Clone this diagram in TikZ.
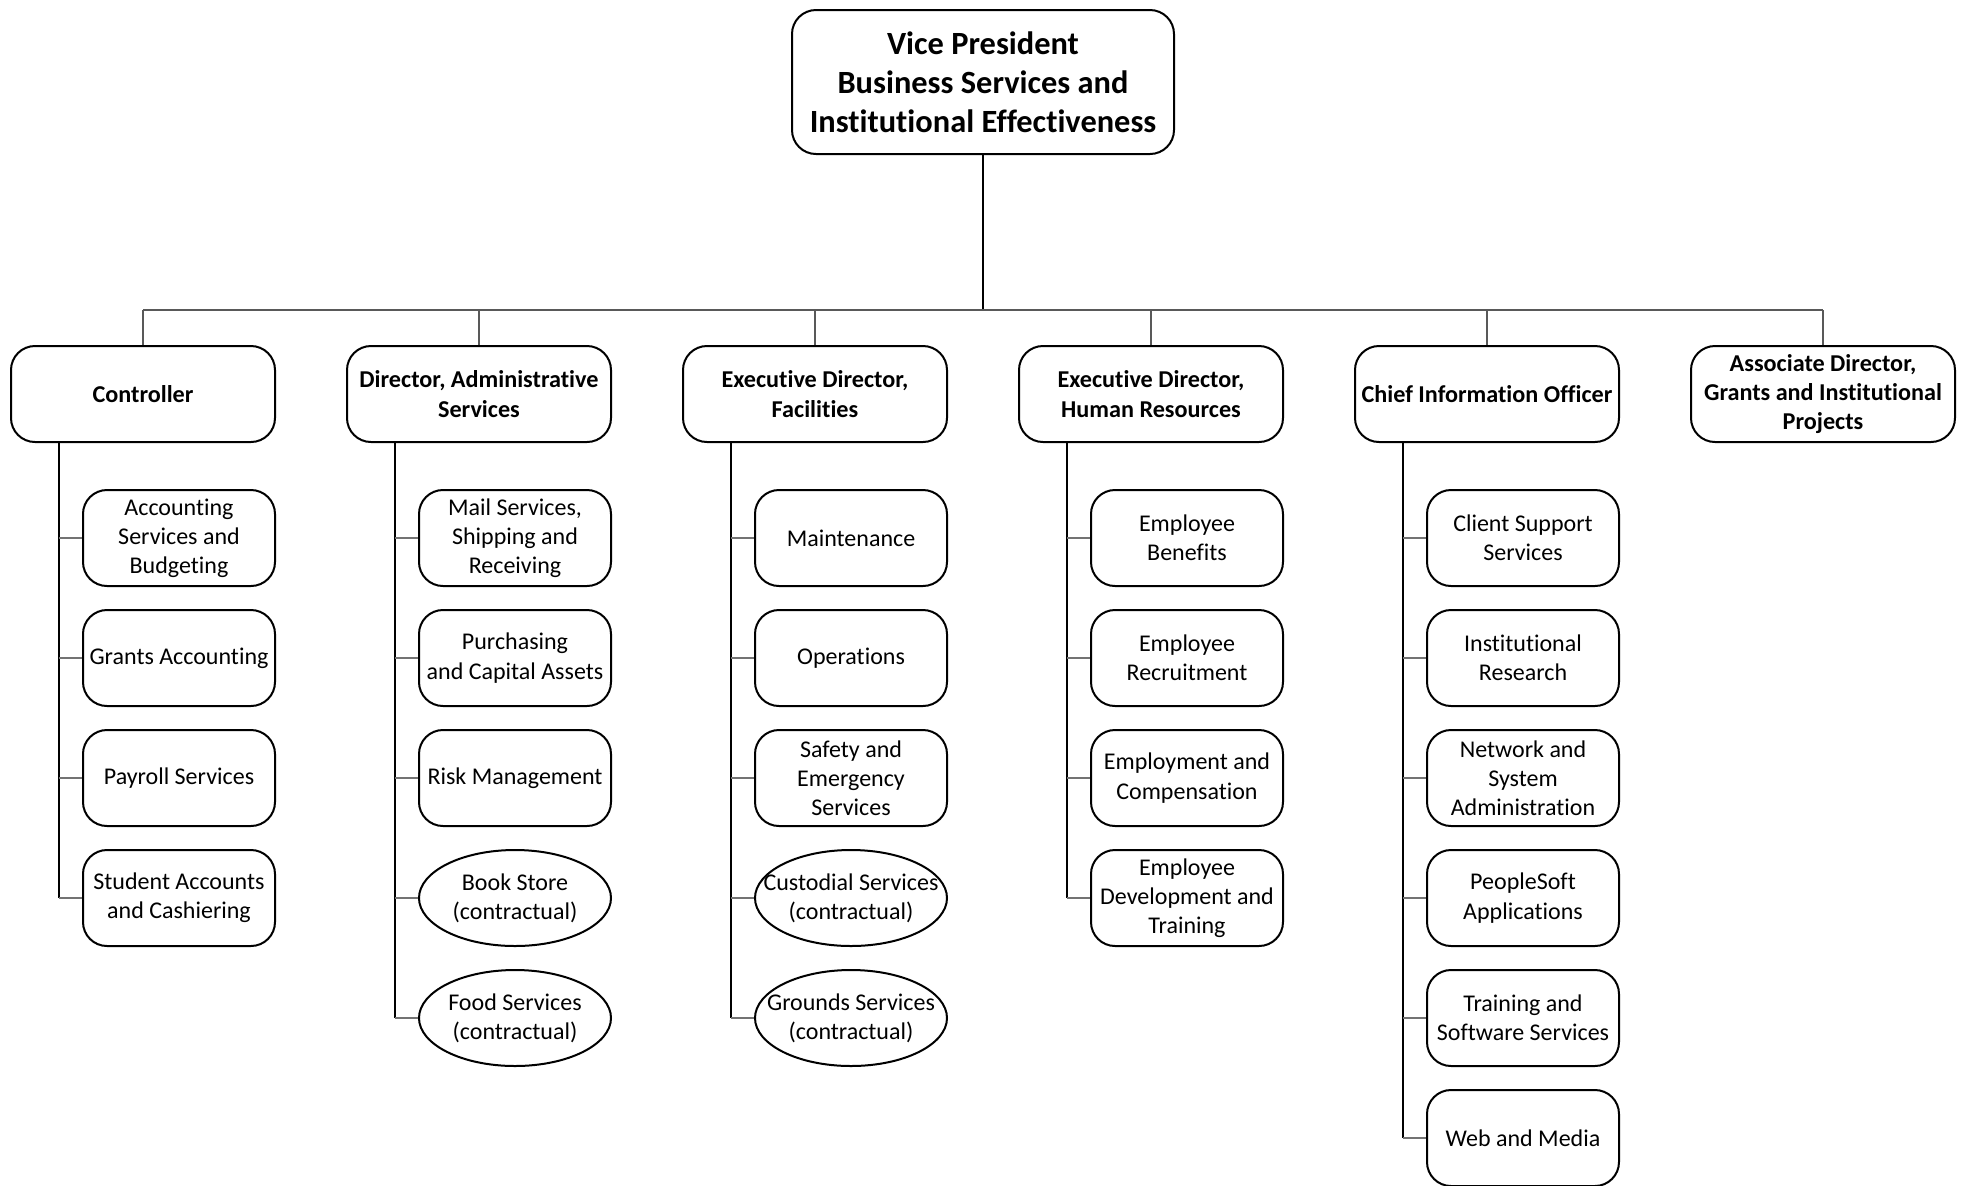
\documentclass[tikz,border=0pt]{standalone}
\usepackage{fontspec}
\setmainfont{Carlito}[Ligatures=NoCommon]
\usetikzlibrary{shapes.geometric}
\begin{document}
\begin{tikzpicture}[x=0.5pt,y=-0.5pt,
 every node/.style={align=center},
 topbox/.style={draw, line width=1pt, rounded corners=12pt, minimum width=191pt, minimum height=72pt, font=\fontsize{16.2}{19.6}\selectfont\bfseries, inner sep=0pt},
 headbox/.style={draw, line width=1pt, rounded corners=12pt, minimum width=132pt, minimum height=48pt, font=\fontsize{12.1}{14.7}\selectfont\bfseries, inner sep=0pt},
 unitbox/.style={draw, line width=1pt, rounded corners=12pt, minimum width=96pt, minimum height=48pt, font=\fontsize{12}{14.6}\selectfont, inner sep=0pt},
 unitoval/.style={draw, line width=1pt, ellipse, minimum width=96pt, minimum height=48pt, font=\fontsize{12}{14.6}\selectfont, inner xsep=-30pt, inner ysep=-6pt},
 busline/.style={line width=0.8pt, draw=black!65},
 spineline/.style={line width=0.8pt, draw=black},
 branchline/.style={line width=0.8pt, draw=black!55}]
\useasboundingbox (0,0) rectangle (1967,1185);

% top
\node[topbox] (vp) at (983,82) {Vice President\\Business Services and\\Institutional Effectiveness};

% heads
\node[headbox] (h1) at (143,394) {Controller};
\node[headbox] (h2) at (479,394) {Director, Administrative\\Services};
\node[headbox] (h3) at (815,394) {Executive Director,\\Facilities};
\node[headbox] (h4) at (1151,394) {Executive Director,\\Human Resources};
\node[headbox] (h5) at (1487,394) {Chief Information Officer};
\node[headbox] (h6) at (1823,394) {Associate Director,\\Grants and Institutional\\Projects};

% column 1
\node[unitbox] (c1a) at (179,538) {Accounting\\Services and\\Budgeting};
\node[unitbox] (c1b) at (179,658) {Grants Accounting};
\node[unitbox] (c1c) at (179,778) {Payroll Services};
\node[unitbox] (c1d) at (179,898) {Student Accounts\\and Cashiering};

% column 2
\node[unitbox] (c2a) at (515,538) {Mail Services,\\Shipping and\\Receiving};
\node[unitbox] (c2b) at (515,658) {Purchasing\\and Capital Assets};
\node[unitbox] (c2c) at (515,778) {Risk Management};
\node[unitoval] (c2d) at (515,898) {Book Store\\(contractual)};
\node[unitoval] (c2e) at (515,1018) {Food Services\\(contractual)};

% column 3
\node[unitbox] (c3a) at (851,538) {Maintenance};
\node[unitbox] (c3b) at (851,658) {Operations};
\node[unitbox] (c3c) at (851,778) {Safety and\\Emergency\\Services};
\node[unitoval] (c3d) at (851,898) {Custodial Services\\(contractual)};
\node[unitoval] (c3e) at (851,1018) {Grounds Services\\(contractual)};

% column 4
\node[unitbox] (c4a) at (1187,538) {Employee\\Benefits};
\node[unitbox] (c4b) at (1187,658) {Employee\\Recruitment};
\node[unitbox] (c4c) at (1187,778) {Employment and\\Compensation};
\node[unitbox] (c4d) at (1187,898) {Employee\\Development and\\Training};

% column 5
\node[unitbox] (c5a) at (1523,538) {Client Support\\Services};
\node[unitbox] (c5b) at (1523,658) {Institutional\\Research};
\node[unitbox] (c5c) at (1523,778) {Network and\\System\\Administration};
\node[unitbox] (c5d) at (1523,898) {PeopleSoft\\Applications};
\node[unitbox] (c5e) at (1523,1018) {Training and\\Software Services};
\node[unitbox] (c5f) at (1523,1138) {Web and Media};

% bus
\coordinate (busL) at (143,310);
\coordinate (busR) at (1823,310);
\coordinate (busC) at (983,310);
\draw[spineline] (vp.south) -- (busC);
\draw[busline] (busL) -- (busR);
\foreach \h in {h1,h2,h3,h4,h5,h6}{
  \draw[busline] (\h.north) -- (\h.north |- busL);
}

% spines
\foreach \h/\last in {h1/c1d,h2/c2e,h3/c3e,h4/c4d,h5/c5f}{
  \coordinate (s-\h) at ([xshift=-42pt]\h.south);
  \draw[spineline] (s-\h) -- (s-\h |- \last.west);
}
% branches
\foreach \h/\c in {h1/c1a,h1/c1b,h1/c1c,h1/c1d,
                   h2/c2a,h2/c2b,h2/c2c,h2/c2d,h2/c2e,
                   h3/c3a,h3/c3b,h3/c3c,h3/c3d,h3/c3e,
                   h4/c4a,h4/c4b,h4/c4c,h4/c4d,
                   h5/c5a,h5/c5b,h5/c5c,h5/c5d,h5/c5e,h5/c5f}{
  \draw[branchline] (s-\h |- \c.west) -- (\c.west);
}
\end{tikzpicture}
\end{document}
